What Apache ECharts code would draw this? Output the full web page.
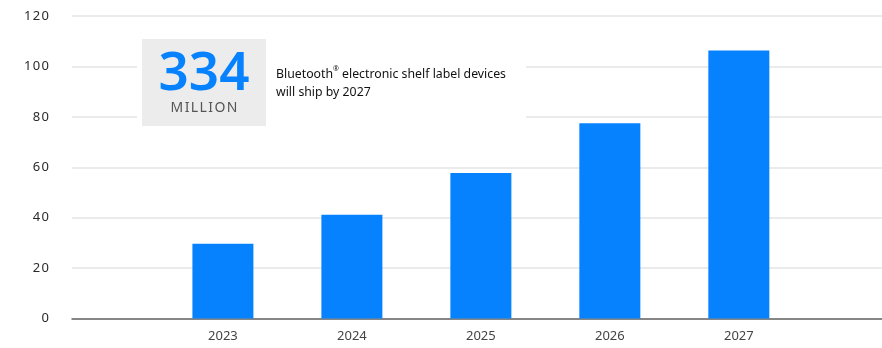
<!DOCTYPE html>
<html>
<head>
<meta charset="utf-8">
<script src="https://cdn.jsdelivr.net/npm/echarts@6/dist/echarts.min.js"></script>
<style>
html,body{margin:0;padding:0;background:#fff;}
#chart{width:882px;height:348px;}
</style>
</head>
<body>
<div id="chart"></div>
<script>
var years = [2023, 2024, 2025, 2026, 2027];
var shipments = [29.7, 41.2, 57.7, 77.5, 106.3];
var yMin = 0, yMax = 120, yStep = 20;
var calloutNumber = '334';
var calloutUnit = 'MILLION';
var calloutLine1 = 'Bluetooth';
var calloutLine1b = ' electronic shelf label devices';
var calloutLine2 = 'will ship by 2027';

function spaced(s) { return String(s).split('').join('\u200A'); }

var chart = echarts.init(document.getElementById('chart'));
chart.setOption({
  animation: false,
  backgroundColor: '#ffffff',
  grid: { left: 72, right: 0, top: 16, bottom: 29.5, containLabel: false },
  xAxis: {
    type: 'value',
    min: 2021.83,
    max: 2028.11,
    axisLine: { show: true, onZero: false, lineStyle: { color: '#666666', width: 1.5 } },
    axisTick: { show: false },
    splitLine: { show: false },
    axisLabel: {
      customValues: years,
      formatter: function (v) { return String(Math.round(v)); },
      color: '#444444',
      fontFamily: 'Noto Sans',
      fontSize: 13,
      margin: 11
    }
  },
  yAxis: {
    type: 'value',
    min: yMin, max: yMax, interval: yStep,
    axisLine: { show: false },
    axisTick: { show: false },
    splitLine: { lineStyle: { color: '#e4e4e4', width: 1.5 } },
    axisLabel: {
      formatter: function (v) { return spaced(v); },
      color: '#2a2a2a',
      fontFamily: 'Noto Sans',
      fontSize: 13,
      margin: 23
    }
  },
  series: [{
    type: 'bar',
    barWidth: 61,
    itemStyle: { color: '#0782fe' },
    data: years.map(function (y, i) { return [y, shipments[i]]; })
  }],
  graphic: [
    { type: 'rect', left: 137, top: 39, shape: { width: 389, height: 87 }, style: { fill: '#ffffff' }, z: 100 },
    { type: 'rect', left: 142, top: 39, shape: { width: 124, height: 87 }, style: { fill: '#ececec' }, z: 101 },
    { type: 'text', x: 204, y: 75, z: 102,
      style: { text: calloutNumber, fill: '#0782fe', font: '600 53px "Noto Sans"', align: 'center', verticalAlign: 'middle' } },
    { type: 'text', x: 204, y: 108, z: 102,
      style: { text: spaced(calloutUnit), fill: '#555555', font: '14px "Noto Sans"', align: 'center', verticalAlign: 'middle' } },
    { type: 'text', x: 276, y: 65, z: 102,
      style: {
        text: '{a|' + calloutLine1 + '}{s|®}{a|' + calloutLine1b + '}\n{a|' + calloutLine2 + '}',
        rich: {
          a: { fontFamily: 'Noto Sans', fontSize: 12.3, fill: '#111111', lineHeight: 18 },
          s: { fontFamily: 'Noto Sans', fontSize: 7, fill: '#111111', lineHeight: 18, verticalAlign: 'top', padding: [0, 0, 6, 0] }
        }
      } }
  ]
});
</script>
</body>
</html>
